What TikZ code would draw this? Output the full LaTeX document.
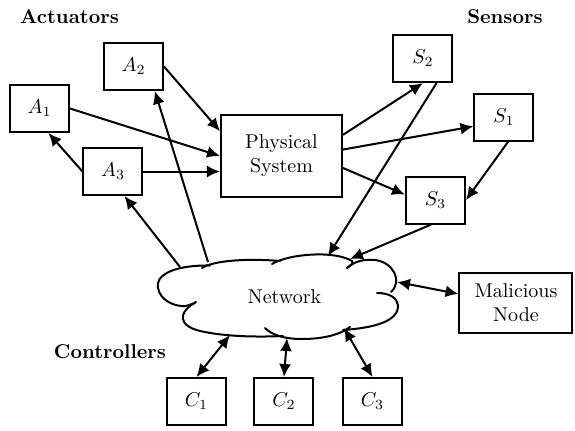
\documentclass[tikz,border=0pt]{standalone}
\usetikzlibrary{arrows.meta}
\begin{document}
\begin{tikzpicture}[x=0.5pt,y=-0.5pt,
  box/.style={draw,line width=1pt,minimum width=29.5pt,minimum height=23.5pt,inner sep=0pt,font=\normalsize},
  bigbox/.style={box,align=center},
  conn/.style={line width=1pt,-{Latex[length=6.5pt,width=6pt]}},
  bconn/.style={line width=1pt,{Latex[length=6.5pt,width=6pt]}-{Latex[length=6.5pt,width=6pt]}},
  cloudline/.style={line width=1pt,line cap=round},
  grp/.style={font=\bfseries}]
\useasboundingbox (0,0) rectangle (575,430);
\node[box] (A1) at (39.5,108.5) {$A_1$};
\node[box] (A2) at (133.5,66.5) {$A_2$};
\node[box] (A3) at (113,171.5) {$A_3$};
\node[bigbox,minimum width=60.5pt,minimum height=41pt] (PS) at (281.5,156) {Physical\\System};
\node[box] (S2) at (423,58.5) {$S_2$};
\node[box] (S1) at (504,117) {$S_1$};
\node[box] (S3) at (435.5,200) {$S_3$};
\node[box] (C1) at (196.5,401.5) {$C_1$};
\node[box] (C2) at (284,401.5) {$C_2$};
\node[box] (C3) at (372.5,401.5) {$C_3$};
\node[bigbox,minimum width=56.5pt,minimum height=30pt] (M) at (516,303) {Malicious\\Node};
\node[inner sep=0pt] (N) at (284.5,297) {Network};
% cloud outline
\draw[cloudline] (210,265.5) .. controls (172,265) and (155,276) .. (158,288)
   .. controls (160,300) and (174,307) .. (186,306) -- (195,303);
\draw[cloudline] (196,302) .. controls (178,312) and (176,327) .. (205,332)
   .. controls (230,337) and (262,337) .. (283,336);
\draw[cloudline] (265,328) .. controls (272,335) and (284,339) .. (302,339)
   .. controls (322,339) and (340,335) .. (350,327);
\draw[cloudline] (343,330) .. controls (372,328) and (399,322) .. (398,305)
   .. controls (397,298) and (390,293) .. (377,293);
\draw[cloudline] (347,268) .. controls (355,261) and (364,259) .. (375,260)
   .. controls (393,262) and (403,281) .. (391,292);
\draw[cloudline] (202,268) .. controls (212,261) and (245,258) .. (280,261);
\draw[cloudline] (272,264) .. controls (288,254) and (334,250) .. (352,261)
   .. controls (354,263) and (351,265) .. (347,268);
\coordinate (nA3) at (180,267);
\coordinate (nA2) at (208,262);
\coordinate (nS2) at (328,256);
\coordinate (nS3) at (350,259);
\coordinate (nM) at (397,282);
\coordinate (nC1) at (230,335);
\coordinate (nC2) at (287,338);
\coordinate (nC3) at (344,328);
\node[grp] (ta) at (69.5,17) {Actuators};
\node[grp] (ts) at (505,17) {Sensors};
\node[grp] (tc) at (110,352) {Controllers};
\draw[conn] (A2.east) -- (PS.158);
\draw[conn] (A1.east) -- (PS.west);
\draw[conn] (A3.east) -- (A3.east -| PS.west);
\draw[conn] (A3.west) -- (A1.-70);
\draw[conn] (nA3) -- (A3.-65);
\draw[conn] (nA2) -- (A2.-49);
\draw[conn] (PS.19) -- (S2.south);
\draw[conn] (PS.6.6) -- (S1.-163);
\draw[conn] (PS.-11) -- (S3.170);
\draw[conn] (S1.-80) -- (S3.east);
\draw[conn] (S2.-61) -- (nS2);
\draw[conn] (S3.-100) -- (nS3);
\draw[bconn] (nM) -- (M.171);
\draw[bconn] (nC1) -- (C1.north);
\draw[bconn] (nC2) -- (C2.north);
\draw[bconn] (nC3) -- (C3.north);
\end{tikzpicture}
\end{document}
